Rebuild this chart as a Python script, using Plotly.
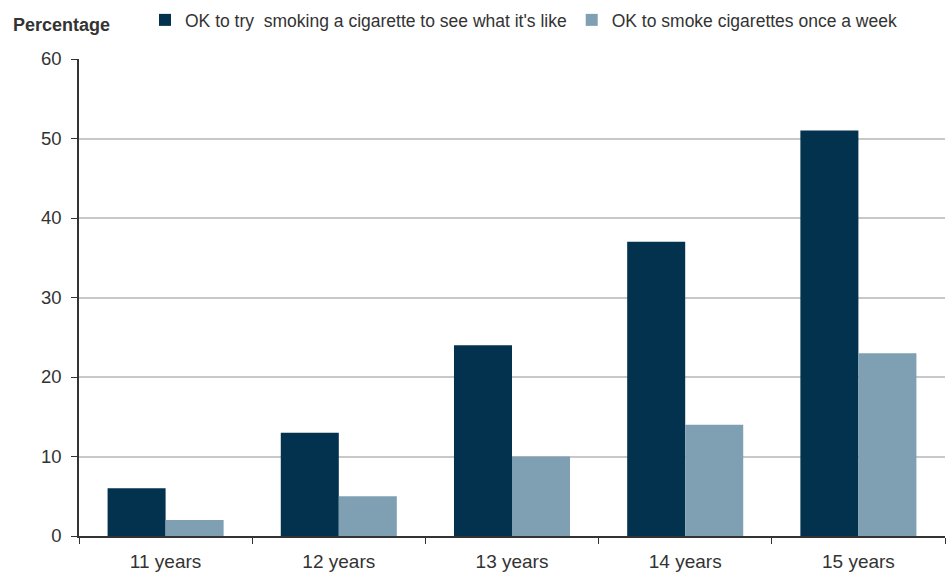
import plotly.graph_objects as go

categories = ["11 years", "12 years", "13 years", "14 years", "15 years"]
try_once = [6, 13, 24, 37, 51]
weekly = [2, 5, 10, 14, 23]
series_names = [
    "OK to try  smoking a cigarette to see what it's like",
    "OK to smoke cigarettes once a week",
]
y_ticks = [0, 10, 20, 30, 40, 50, 60]

FONT = "Liberation Sans Narrow, Arial Narrow, Liberation Sans, Arial, sans-serif"
TEXT = "#333333"

fig = go.Figure()
fig.add_trace(go.Bar(x=categories, y=try_once, name=series_names[0],
                     marker=dict(color="#03324F", line=dict(width=0))))
fig.add_trace(go.Bar(x=categories, y=weekly, name=series_names[1],
                     marker=dict(color="#7FA0B3", line=dict(width=0))))

plot_h = 576 - 59 - 40
plot_w = 950 - 79 - 5

fig.update_layout(
    width=950, height=576,
    margin=dict(l=79, r=5, t=59, b=40, autoexpand=False),
    paper_bgcolor="white", plot_bgcolor="white",
    barmode="group", bargap=0.33, bargroupgap=0,
    font=dict(family=FONT, size=17, color=TEXT),
    showlegend=True,
    legend=dict(orientation="h", x=(145 - 79) / plot_w, xanchor="left",
                y=1 + 39 / plot_h, yanchor="middle",
                font=dict(size=17.5, color=TEXT),
                itemwidth=30, traceorder="normal", bgcolor="rgba(0,0,0,0)"),
    annotations=[dict(text="<b>Percentage</b>", xref="paper", yref="paper",
                      x=(11 - 79) / plot_w, y=1 + 34 / plot_h,
                      xanchor="left", yanchor="middle", showarrow=False,
                      font=dict(size=18, color=TEXT))],
)

fig.update_xaxes(
    type="category", showline=True, linecolor="#333333", linewidth=1.5,
    ticks="outside", tickson="boundaries", ticklen=6, tickcolor="#333333",
    showgrid=False, tickfont=dict(size=19, color=TEXT), ticklabelstandoff=7,
)
fig.update_yaxes(
    range=[0, 60], tickvals=y_ticks, showline=True, linecolor="#333333", linewidth=1.5,
    ticks="outside", ticklen=6, tickcolor="#333333",
    showgrid=True, gridcolor="#C8C8C8", gridwidth=1.5,
    tickfont=dict(size=18.5, color=TEXT), zeroline=False, ticklabelstandoff=6,
)

fig.write_html("out.html")
